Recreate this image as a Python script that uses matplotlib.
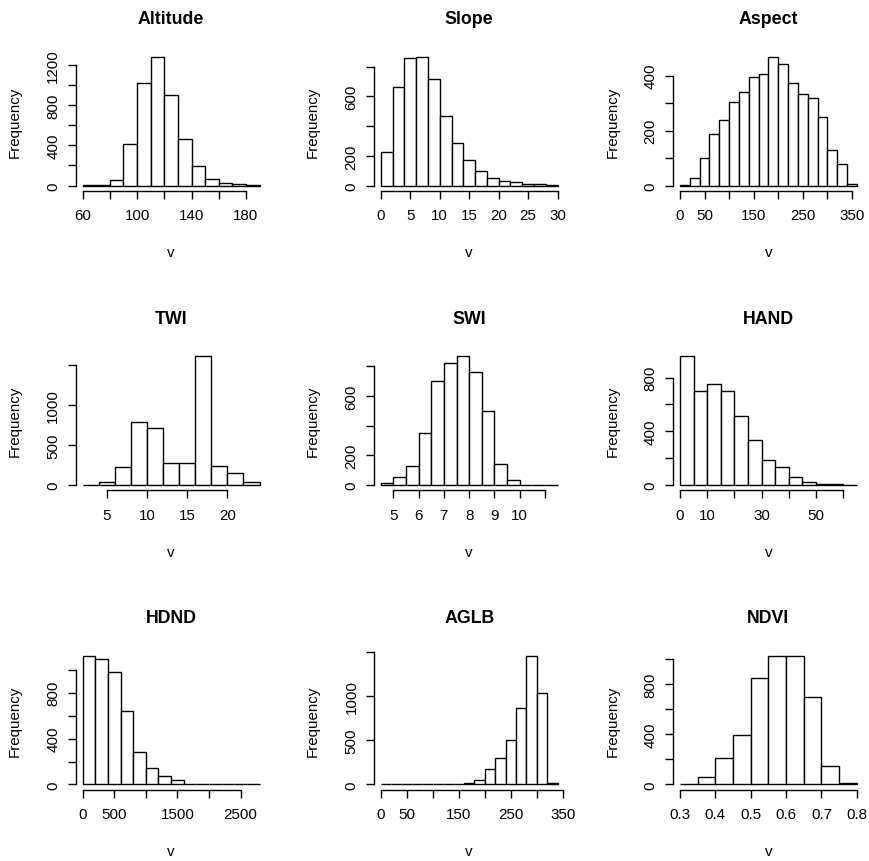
import numpy as np
import matplotlib
matplotlib.use("Agg")
import matplotlib.pyplot as plt

plt.rcParams['font.family'] = ['Liberation Sans', 'DejaVu Sans']

# ---------------- data ----------------
titles = ["Altitude", "Slope", "Aspect", "TWI", "SWI", "HAND", "HDND", "AGLB", "NDVI"]

alt_edges = [60, 70, 80, 90, 100, 110, 120, 130, 140, 150, 160, 170, 180, 190]
alt_counts = [8, 8, 56, 412, 1022, 1280, 900, 465, 191, 69, 30, 12, 3]

slope_edges = [0, 2, 4, 6, 8, 10, 12, 14, 16, 18, 20, 22, 24, 26, 28, 30]
slope_counts = [223, 664, 856, 867, 720, 466, 287, 169, 96, 49, 31, 22, 13, 10, 2]

aspect_edges = [0, 20, 40, 60, 80, 100, 120, 140, 160, 180, 200, 220, 240, 260,
                280, 300, 320, 340, 360]
aspect_counts = [2, 27, 100, 186, 240, 304, 339, 393, 407, 468, 442, 372, 334,
                 319, 251, 130, 77, 5]

twi_edges = [2, 4, 6, 8, 10, 12, 14, 16, 18, 20, 22, 24]
twi_counts = [2, 34, 223, 794, 710, 277, 277, 1609, 239, 151, 34]

swi_edges = [4.5, 5.0, 5.5, 6.0, 6.5, 7.0, 7.5, 8.0, 8.5, 9.0, 9.5, 10.0, 10.5, 11.0, 11.5]
swi_counts = [16, 54, 131, 353, 698, 818, 866, 764, 499, 140, 36, 0, 0, 1]

hand_edges = [0, 5, 10, 15, 20, 25, 30, 35, 40, 45, 50, 55, 60, 65]
hand_counts = [958, 700, 750, 700, 513, 338, 183, 133, 60, 20, 10, 7, 1]

hdnd_edges = [0, 200, 400, 600, 800, 1000, 1200, 1400, 1600, 1800, 2000, 2200,
              2400, 2600, 2800]
hdnd_counts = [1122, 1096, 977, 638, 280, 146, 73, 38, 2, 0, 0, 0, 0, 1]

aglb_edges = [0, 20, 40, 60, 80, 100, 120, 140, 160, 180, 200, 220, 240, 260,
              280, 300, 320, 340]
aglb_counts = [1, 0, 0, 0, 0, 0, 0, 0, 19, 49, 178, 302, 502, 865, 1455, 1031, 20]

ndvi_edges = [0.30, 0.35, 0.40, 0.45, 0.50, 0.55, 0.60, 0.65, 0.70, 0.75, 0.80]
ndvi_counts = [1, 59, 211, 397, 848, 1024, 1022, 696, 147, 13]

# tick positions and tick labels ('' = tick without label, as in the reference)
alt_xticks = [60, 80, 100, 120, 140, 160, 180]
alt_xlabels = ["60", "", "100", "", "140", "", "180"]
alt_yticks = [0, 200, 400, 600, 800, 1000, 1200]
alt_ylabels = ["0", "", "400", "", "800", "", "1200"]

slope_xticks = [0, 5, 10, 15, 20, 25, 30]
slope_xlabels = ["0", "5", "10", "15", "20", "25", "30"]
slope_yticks = [0, 200, 400, 600, 800]
slope_ylabels = ["0", "200", "", "600", ""]

aspect_xticks = [0, 50, 100, 150, 200, 250, 300, 350]
aspect_xlabels = ["0", "50", "", "150", "", "250", "", "350"]
aspect_yticks = [0, 100, 200, 300, 400]
aspect_ylabels = ["0", "", "200", "", "400"]

twi_xticks = [5, 10, 15, 20]
twi_xlabels = ["5", "10", "15", "20"]
twi_yticks = [0, 500, 1000, 1500]
twi_ylabels = ["0", "500", "1000", ""]

swi_xticks = [5, 6, 7, 8, 9, 10, 11]
swi_xlabels = ["5", "6", "7", "8", "9", "10", ""]
swi_yticks = [0, 200, 400, 600, 800]
swi_ylabels = ["0", "200", "", "600", ""]

hand_xticks = [0, 10, 20, 30, 40, 50, 60]
hand_xlabels = ["0", "10", "", "30", "", "50", ""]
hand_yticks = [0, 200, 400, 600, 800]
hand_ylabels = ["0", "", "400", "", "800"]

hdnd_xticks = [0, 500, 1000, 1500, 2000, 2500]
hdnd_xlabels = ["0", "500", "", "1500", "", "2500"]
hdnd_yticks = [0, 200, 400, 600, 800, 1000]
hdnd_ylabels = ["0", "", "400", "", "800", ""]

aglb_xticks = [0, 50, 100, 150, 200, 250, 300, 350]
aglb_xlabels = ["0", "50", "", "150", "", "250", "", "350"]
aglb_yticks = [0, 500, 1000, 1500]
aglb_ylabels = ["0", "500", "1000", ""]

ndvi_xticks = [0.3, 0.4, 0.5, 0.6, 0.7, 0.8]
ndvi_xlabels = ["0.3", "0.4", "0.5", "0.6", "0.7", "0.8"]
ndvi_yticks = [0, 200, 400, 600, 800, 1000]
ndvi_ylabels = ["0", "", "400", "", "800", ""]

panels = [
    (alt_edges, alt_counts, alt_xticks, alt_xlabels, alt_yticks, alt_ylabels),
    (slope_edges, slope_counts, slope_xticks, slope_xlabels, slope_yticks, slope_ylabels),
    (aspect_edges, aspect_counts, aspect_xticks, aspect_xlabels, aspect_yticks, aspect_ylabels),
    (twi_edges, twi_counts, twi_xticks, twi_xlabels, twi_yticks, twi_ylabels),
    (swi_edges, swi_counts, swi_xticks, swi_xlabels, swi_yticks, swi_ylabels),
    (hand_edges, hand_counts, hand_xticks, hand_xlabels, hand_yticks, hand_ylabels),
    (hdnd_edges, hdnd_counts, hdnd_xticks, hdnd_xlabels, hdnd_yticks, hdnd_ylabels),
    (aglb_edges, aglb_counts, aglb_xticks, aglb_xlabels, aglb_yticks, aglb_ylabels),
    (ndvi_edges, ndvi_counts, ndvi_xticks, ndvi_xlabels, ndvi_yticks, ndvi_ylabels),
]

# ---------------- layout ----------------
W, H = 870, 862
fig = plt.figure(figsize=(W / 100, H / 100), dpi=100)
fig.patch.set_facecolor("white")

col_left = [75.6, 373.7, 672.9]
row_top = [52.7, 352.2, 651.6]
pw, ph = 191.0, 139.0

TICK_FS = 10.9
TITLE_FS = 12.8
LW = 1.0

for i, (edges, counts, xt, xl, yt, yl) in enumerate(panels):
    r, c = divmod(i, 3)
    left = col_left[c] / W
    bottom = 1 - (row_top[r] + ph) / H
    ax = fig.add_axes([left, bottom, pw / W, ph / H])

    edges = np.asarray(edges, dtype=float)
    counts = np.asarray(counts, dtype=float)
    ax.bar(edges[:-1], counts, width=np.diff(edges), align="edge",
           facecolor="white", edgecolor="black", linewidth=LW)

    # R-style 4% axis extension
    xr = edges[-1] - edges[0]
    ax.set_xlim(edges[0] - 0.04 * xr, edges[-1] + 0.04 * xr)
    ymax = counts.max()
    ax.set_ylim(-0.04 * ymax, ymax * 1.04)

    for s in ("top", "right"):
        ax.spines[s].set_visible(False)
    for s in ("left", "bottom"):
        ax.spines[s].set_linewidth(LW)
    ax.spines["left"].set_bounds(yt[0], yt[-1])
    ax.spines["bottom"].set_bounds(xt[0], xt[-1])

    ax.set_xticks(xt)
    ax.set_xticklabels(xl, fontsize=TICK_FS)
    ax.set_yticks(yt)
    ax.set_yticklabels(yl, fontsize=TICK_FS, rotation=90, va="center")
    ax.tick_params(axis="both", direction="out", length=6.0, width=LW, colors="black")
    ax.tick_params(axis="x", pad=6.5)
    ax.tick_params(axis="y", pad=5.0)

    ax.text(0.5, 1 + 32.7 / ph, titles[i], transform=ax.transAxes,
            fontsize=TITLE_FS, fontweight="bold", ha="center", va="center")
    ax.set_xlabel("v", fontsize=TICK_FS, va="center")
    ax.xaxis.set_label_coords(0.5, -0.442)
    ax.set_ylabel("Frequency", fontsize=TICK_FS, va="center")
    ax.yaxis.set_label_coords(-0.317, 0.5)
    ax.set_facecolor("white")

fig.savefig("out.png", dpi=100, facecolor="white")
